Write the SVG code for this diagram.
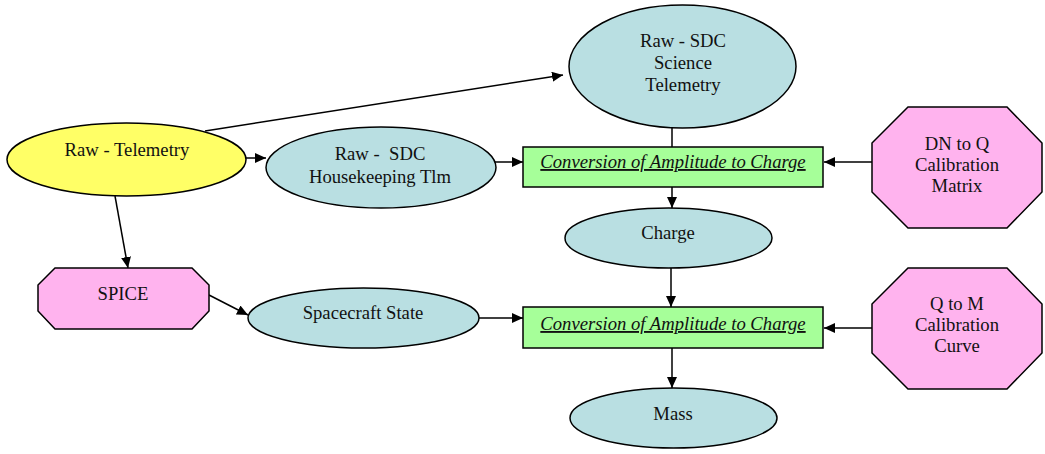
<svg xmlns="http://www.w3.org/2000/svg" width="1045" height="454" viewBox="0 0 1045 454">
<style>
  .shape { stroke: #000; stroke-width: 1.5; }
  .yellow { fill: #FFFF66; }
  .blue { fill: #B9DFE2; }
  .green { fill: #A6FF99; }
  .pink { fill: #FFB3EE; }
  text { font-family: "Liberation Serif", "Times New Roman", serif; font-size: 18.67px; fill: #111; text-anchor: middle; white-space: pre; }
  .proc { font-style: italic; text-decoration: underline; }
  .conn line { stroke: #000; stroke-width: 1.5; fill: none; }
  .arr { marker-end: url(#ah); }
</style>
<defs>
  <marker id="ah" markerUnits="userSpaceOnUse" markerWidth="12" markerHeight="11" refX="11" refY="5" orient="auto">
    <path d="M0,0 L11,5 L0,10 z" fill="#000"/>
  </marker>
</defs>
<rect width="1045" height="454" fill="#fff"/>
<g id="connectors" class="conn">
  <line class="arr" x1="205" y1="131" x2="563" y2="75"/>
  <line class="arr" x1="246" y1="158" x2="266" y2="158"/>
  <line class="arr" x1="495" y1="162" x2="523" y2="162"/>
  <line x1="672" y1="128" x2="672" y2="147"/>
  <line class="arr" x1="872" y1="162" x2="824" y2="162"/>
  <line class="arr" x1="672" y1="187" x2="672" y2="208"/>
  <line class="arr" x1="115" y1="196" x2="128" y2="268"/>
  <line class="arr" x1="209" y1="295" x2="248" y2="315"/>
  <line class="arr" x1="479" y1="318" x2="523" y2="318"/>
  <line class="arr" x1="671" y1="268" x2="671" y2="307"/>
  <line class="arr" x1="872" y1="328" x2="824" y2="328"/>
  <line class="arr" x1="672" y1="348" x2="672" y2="388"/>
</g>
<g id="raw-telemetry">
  <ellipse class="shape yellow" cx="126.5" cy="159.5" rx="119.5" ry="36.5"/>
  <text x="127" y="156">Raw - Telemetry</text>
</g>
<g id="raw-sdc-hk">
  <ellipse class="shape blue" cx="381" cy="167.5" rx="115" ry="40.5"/>
  <text x="380" y="160">Raw -  SDC</text>
  <text x="380" y="182.5">Housekeeping Tlm</text>
</g>
<g id="raw-sdc-science">
  <ellipse class="shape blue" cx="682.5" cy="66.5" rx="113.5" ry="61.5"/>
  <text x="683" y="47">Raw - SDC</text>
  <text x="683" y="69">Science</text>
  <text x="683" y="91">Telemetry</text>
</g>
<g id="conversion-1">
  <rect class="shape green" x="523" y="147" width="300" height="40"/>
  <text class="proc" x="673" y="168">Conversion of Amplitude to Charge</text>
</g>
<g id="dn-to-q">
  <polygon class="shape pink" points="908,107 1007,107 1042,143 1042,192 1007,228 908,228 872,192 872,143"/>
  <text x="957" y="150">DN to Q</text>
  <text x="957" y="171">Calibration</text>
  <text x="957" y="192">Matrix</text>
</g>
<g id="charge">
  <ellipse class="shape blue" cx="668.5" cy="238" rx="103.5" ry="30"/>
  <text x="668" y="239">Charge</text>
</g>
<g id="spice">
  <polygon class="shape pink" points="55,268 192,268 209,285 209,311 192,329 55,329 38,311 38,285"/>
  <text x="123" y="300">SPICE</text>
</g>
<g id="spacecraft-state">
  <ellipse class="shape blue" cx="363.5" cy="318" rx="115.5" ry="30"/>
  <text x="363" y="319">Spacecraft State</text>
</g>
<g id="conversion-2">
  <rect class="shape green" x="523" y="307" width="300" height="41"/>
  <text class="proc" x="673" y="330">Conversion of Amplitude to Charge</text>
</g>
<g id="q-to-m">
  <polygon class="shape pink" points="908,268 1007,268 1042,304 1042,353 1007,389 908,389 872,353 872,304"/>
  <text x="957" y="310">Q to M</text>
  <text x="957" y="331">Calibration</text>
  <text x="957" y="352">Curve</text>
</g>
<g id="mass">
  <ellipse class="shape blue" cx="673.5" cy="418" rx="103.5" ry="30"/>
  <text x="673" y="420">Mass</text>
</g>
</svg>
